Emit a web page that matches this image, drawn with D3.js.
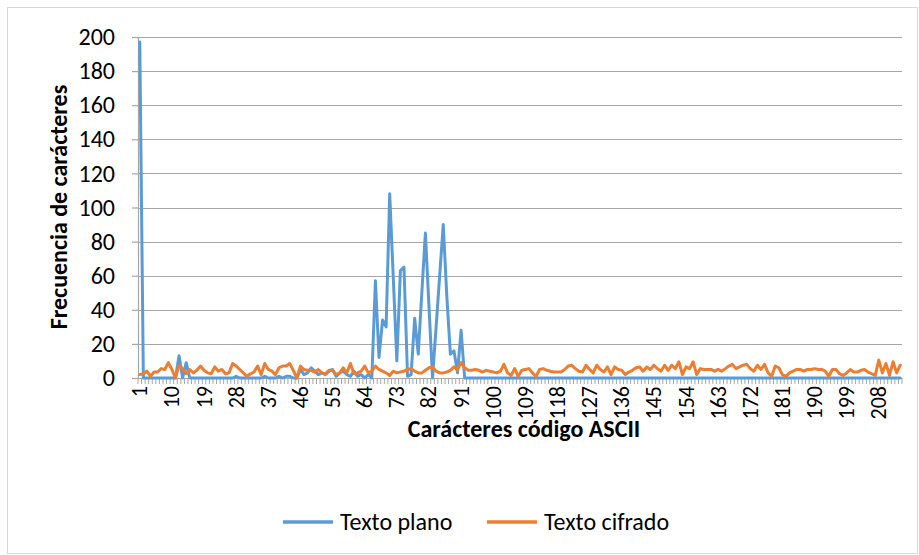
<!DOCTYPE html>
<html>
<head>
<meta charset="utf-8">
<script src="https://cdn.jsdelivr.net/npm/d3@7"></script>
<style>
  body { margin: 0; background: #fff; }
  svg { display: block; font-family: Carlito, "Liberation Sans", Arial, sans-serif; }
</style>
</head>
<body>
<div id="chart"></div>
<script>
// categories 1..214 (ASCII char index)
const categories = d3.range(1, 215);
const tickLabels = [1, 10, 19, 28, 37, 46, 55, 64, 73, 82, 91, 100, 109, 118, 127, 136, 145, 154, 163, 172, 181, 190, 199, 208];
const yTicks = [0, 20, 40, 60, 80, 100, 120, 140, 160, 180, 200];

const textoPlano = [
  197, 0, 0, 0, 0, 0, 0, 0, 0, 0,
  0, 13, 0, 9, 0, 0, 0, 0, 0, 0,
  0, 0, 0, 0, 0, 0, 0, 1, 0, 0,
  0, 0, 0, 0, 0, 1, 0, 0, 0, 1,
  0, 1, 1, 0, 0, 5, 2, 3, 6, 4,
  2, 3, 2, 4, 5, 1, 3, 4, 2, 1,
  4, 1, 2, 0, 2, 0, 57, 12, 34, 30,
  108, 59, 10, 63, 65, 1, 2, 35, 14, 50,
  85, 42, 0, 30, 60, 90, 48, 14, 16, 3,
  28, 0, 0, 0, 0, 0, 0, 0, 0, 0,
  0, 0, 0, 0, 0, 0, 0, 0, 0, 0,
  0, 0, 0, 0, 0, 0, 0, 0, 0, 0,
  0, 0, 0, 0, 0, 0, 0, 0, 0, 0,
  0, 0, 0, 0, 0, 0, 0, 0, 0, 0,
  0, 0, 0, 0, 0, 0, 0, 0, 0, 0,
  0, 0, 0, 0, 0, 0, 0, 0, 0, 0,
  0, 0, 0, 0, 0, 0, 0, 0, 0, 0,
  0, 0, 0, 0, 0, 0, 0, 0, 0, 0,
  0, 0, 0, 0, 0, 0, 0, 0, 0, 0,
  0, 0, 0, 0, 0, 0, 0, 0, 0, 0,
  0, 0, 0, 0, 0, 0, 0, 0, 0, 0,
  0, 0, 0, 0
];

const textoCifrado = [
  2, 2.5, 4, 1, 3.5, 3.5, 5.5, 5, 9, 5,
  0, 7.5, 5.5, 2.5, 5, 3, 4.5, 7, 4.5, 3,
  2.5, 6.5, 4, 5, 2.5, 3, 8.5, 7, 5, 3,
  1, 2.5, 3.5, 7, 2, 8.5, 5, 4, 2, 6,
  7, 7, 8.5, 4.5, 0, 7, 5, 4.5, 4.5, 3.5,
  5, 3, 2.5, 4.5, 4.5, 2, 3, 6, 3, 8.5,
  2.5, 3, 4, 7, 3, 4, 7, 5, 4, 3,
  1.5, 4, 3, 3.5, 4, 5, 5.5, 4, 3, 3,
  4.5, 6, 6.5, 4, 3, 3, 3.5, 4.5, 6.5, 5,
  9, 6, 4.5, 4.5, 5, 4.5, 3.5, 4.5, 4, 3.5,
  3, 4, 8, 3, 1.5, 5.5, 1, 4.5, 5, 5.5,
  3, 1, 5, 5.5, 4.5, 4, 3.5, 3.5, 3.5, 5,
  7, 7.5, 5.5, 4, 3.5, 7.5, 5, 3, 7.5, 5,
  3.5, 6.5, 2, 6.5, 5, 4.5, 2, 3.5, 4.5, 6,
  6.5, 4, 6.5, 5, 7.5, 5.5, 4, 7.5, 4.5, 7.5,
  5.5, 9.5, 2, 6.5, 5.5, 9.5, 2, 5.5, 5, 5,
  5, 4, 5, 4, 5.5, 7, 8, 5.5, 6.5, 7.5,
  8, 5.5, 4, 7.5, 5, 8, 3, 1, 7, 6,
  2, 1, 3, 4, 5, 5, 4, 5, 5, 5.5,
  5, 5, 4, 1, 5, 5, 2.5, 1.5, 3, 5,
  3.5, 3.5, 4.5, 5, 3.5, 2.5, 1.5, 10.5, 3, 8.5,
  1.5, 9.5, 3, 7.5
];

const series = [
  { name: "Texto plano", values: textoPlano, color: "#5b9bd5" },
  { name: "Texto cifrado", values: textoCifrado, color: "#ed7d31" }
];

const width = 919, height = 555;
const margin = { top: 37, right: 17, bottom: 177, left: 138 };

const svg = d3.select("#chart").append("svg")
  .attr("width", width)
  .attr("height", height);

// chart border
svg.append("rect")
  .attr("x", 7.5).attr("y", 7.5)
  .attr("width", 910).attr("height", 546)
  .attr("fill", "#fff")
  .attr("stroke", "#d9d9d9");

const x = d3.scaleBand()
  .domain(categories)
  .range([margin.left, width - margin.right]);

const y = d3.scaleLinear()
  .domain([0, 200])
  .range([height - margin.bottom, margin.top]);

const cx = d => x(d) + x.bandwidth() / 2;

// gridlines
svg.append("g")
  .selectAll("line")
  .data(yTicks.filter(t => t > 0))
  .enter().append("line")
  .attr("x1", margin.left).attr("x2", width - margin.right)
  .attr("y1", d => Math.round(y(d)) + 0.5)
  .attr("y2", d => Math.round(y(d)) + 0.5)
  .attr("stroke", "#a6a6a6")
  .attr("stroke-width", 1.2);

// y axis
const yAxis = svg.append("g")
  .attr("transform", `translate(${margin.left},0)`)
  .call(d3.axisLeft(y).tickValues(yTicks).tickSize(6).tickPadding(17));
yAxis.select(".domain").attr("stroke", "#a6a6a6").attr("stroke-width", 1.2);
yAxis.selectAll(".tick line").attr("stroke", "#a6a6a6").attr("stroke-width", 1.2);
yAxis.selectAll("text")
  .attr("font-size", 24)
  .attr("font-family", "Carlito, 'Liberation Sans', Arial, sans-serif")
  .attr("fill", "#000");

// x axis: tick marks at every category boundary
const boundaries = categories.map(d => x(d)).concat([width - margin.right]);
const xAxisG = svg.append("g");
xAxisG.append("line")
  .attr("x1", margin.left).attr("x2", width - margin.right)
  .attr("y1", y(0) + 0.5).attr("y2", y(0) + 0.5)
  .attr("stroke", "#a6a6a6").attr("stroke-width", 1.2);
xAxisG.selectAll(".btick")
  .data(boundaries)
  .enter().append("line")
  .attr("class", "btick")
  .attr("x1", d => d).attr("x2", d => d)
  .attr("y1", y(0)).attr("y2", y(0) + 6)
  .attr("stroke", "#a6a6a6")
  .attr("stroke-width", 1);

xAxisG.selectAll(".xlabel")
  .data(tickLabels)
  .enter().append("text")
  .attr("class", "xlabel")
  .attr("transform", d => `translate(${cx(d) + 7.5},${y(0) + 8}) rotate(-90)`)
  .attr("text-anchor", "end")
  .attr("font-size", 22)
  .text(d => d);

// lines
const line = d3.line()
  .x((d, i) => cx(categories[i]))
  .y(d => y(d));

svg.append("g")
  .selectAll("path")
  .data(series)
  .enter().append("path")
  .attr("fill", "none")
  .attr("stroke", d => d.color)
  .attr("stroke-width", 3)
  .attr("stroke-linejoin", "round")
  .attr("stroke-linecap", "round")
  .attr("d", d => line(d.values));

// axis titles
svg.append("text")
  .attr("x", 524).attr("y", 437)
  .attr("text-anchor", "middle")
  .attr("font-weight", "bold")
  .attr("font-size", 24)
  .text("Carácteres código ASCII");

svg.append("text")
  .attr("transform", "translate(67,207) rotate(-90)")
  .attr("text-anchor", "middle")
  .attr("font-weight", "bold")
  .attr("font-size", 24)
  .text("Frecuencia de carácteres");

// legend
const legendItems = [
  { s: series[0], x: 283 },
  { s: series[1], x: 487 }
];
const legend = svg.append("g").selectAll("g")
  .data(legendItems)
  .enter().append("g")
  .attr("transform", d => `translate(${d.x},522)`);
legend.append("line")
  .attr("x1", 0).attr("x2", 50)
  .attr("stroke", d => d.s.color)
  .attr("stroke-width", 3.5);
legend.append("text")
  .attr("x", 57).attr("y", 8)
  .attr("font-size", 24)
  .text(d => d.s.name);
</script>
</body>
</html>
